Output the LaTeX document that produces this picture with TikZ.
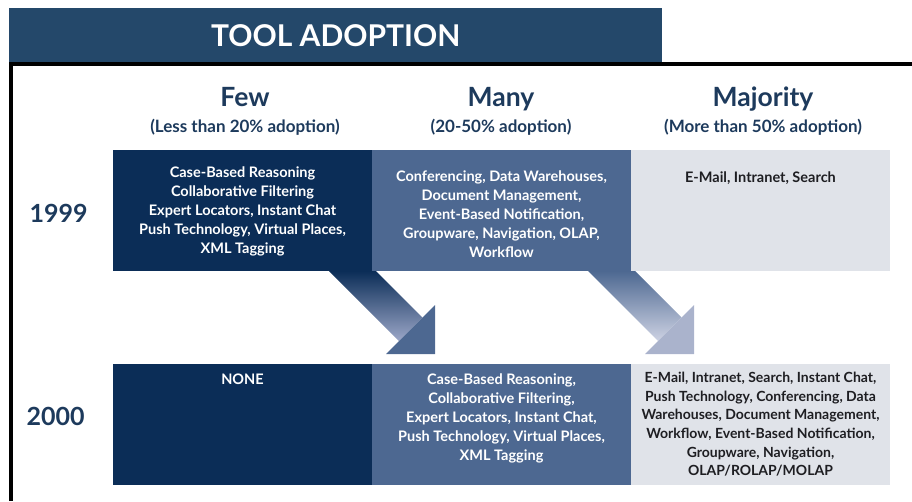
\documentclass[tikz,border=0pt]{standalone}
\usepackage{fontspec}
\setmainfont{Lato}
\usetikzlibrary{positioning}

\definecolor{titleblue}{HTML}{24486A}
\definecolor{headblue}{HTML}{1D3A5C}
\definecolor{fewblue}{HTML}{0B2D57}
\definecolor{manyblue}{HTML}{4D6891}
\definecolor{majgrey}{HTML}{E0E3E9}
\definecolor{lavender}{HTML}{9CA7C8}
\definecolor{palelavender}{HTML}{CDD2E3}
\definecolor{tipgrey}{HTML}{AAB3CC}
\definecolor{inkgrey}{HTML}{1E1E22}

\tikzset{
  cell/.style={minimum width=259pt, minimum height=121pt, inner sep=0pt, outer sep=0pt},
  tools/.style={align=center, inner sep=0pt, font=\fontsize{14.5}{19}\selectfont\bfseries},
  heading/.style={anchor=base, text=headblue, font=\fontsize{26.5}{28}\selectfont\bfseries},
  share/.style={anchor=base, text=headblue, font=\fontsize{17}{19}\selectfont\bfseries},
  year/.style={anchor=base, text=headblue, font=\fontsize{25}{27}\selectfont\bfseries},
}

\begin{document}
\begin{tikzpicture}[x=1pt, y=-1pt]
  \useasboundingbox (0,0) rectangle (912,501);

  \node[fill=titleblue, text=white, minimum width=653pt, minimum height=54pt, inner sep=0pt,
        anchor=north west, font=\fontsize{30}{32}\selectfont\bfseries] (title) at (9,8) {TOOL ADOPTION};
  \draw [line width=4.5pt] (11,501) |- (912,64);% frame

  \node[heading] (few) at (245,106) {Few};
  \node[heading] (many) at (501,106) {Many};
  \node[heading] (majority) at (763,106) {Majority};
  \node[share] (fewshare) at (245,132) {(Less than 20\% adoption)};
  \node[share] (manyshare) at (501,132) {(20-50\% adoption)};
  \node[share] (majshare) at (763,132) {(More than 50\% adoption)};

  \node[year] (y99) at (58.5,222) {1999};
  \node[year] (y00) at (55.5,425) {2000};

  % 1999 row
  \node[cell, fill=fewblue, anchor=north west] (few99) at (113,150) {};
  \node[cell, fill=manyblue, right=0pt of few99] (many99) {};
  \node[cell, fill=majgrey, right=0pt of many99] (maj99) {};
  % 2000 row
  \node[cell, fill=fewblue, anchor=north west] (few00) at (113,364) {};
  \node[cell, fill=manyblue, right=0pt of few00] (many00) {};
  \node[cell, fill=majgrey, right=0pt of many00] (maj00) {};

  % arrows from 1999 to 2000
  \foreach \src/\ca/\cb/\ch in {few99/fewblue/lavender/manyblue, many99/manyblue/palelavender/tipgrey}{
    \begin{scope}[shift={(\src.south east)}]
      \shade [top color=\ca, bottom color=\cb] (-43,0) -- (4,0) -- (50.5,46.5) -- (27,70) -- cycle;
      \fill [\ch] (63,34) -- (63,83) -- (14,83) -- cycle;
    \end{scope}
  }

  \node[tools, text=white, below=17pt of few99.north] (few99tools)
    {Case-Based Reasoning\\Collaborative Filtering\\Expert Locators, Instant Chat\\Push Technology, Virtual Places,\\XML Tagging};
  \node[tools, text=white, below=21pt of many99.north] (many99tools)
    {Conferencing, Data Warehouses,\\Document Management,\\Event-Based Notification,\\Groupware, Navigation, OLAP,\\Workflow};
  \node[tools, text=inkgrey, below=22pt of maj99.north] (maj99tools) {E-Mail, Intranet, Search};

  \node[tools, text=white, below=10pt of few00.north] (few00tools) {NONE};
  \node[tools, text=white, below=10pt of many00.north] (many00tools)
    {Case-Based Reasoning,\\Collaborative Filtering,\\Expert Locators, Instant Chat,\\Push Technology, Virtual Places,\\XML Tagging};
  \node[tools, text=inkgrey, below=8pt of maj00.north, font=\fontsize{14}{18.6}\selectfont\bfseries] (maj00tools)
    {E-Mail, Intranet, Search, Instant Chat,\\Push Technology, Conferencing, Data\\Warehouses, Document Management,\\Workflow, Event-Based Notification,\\Groupware, Navigation,\\OLAP/ROLAP/MOLAP};
\end{tikzpicture}
\end{document}
